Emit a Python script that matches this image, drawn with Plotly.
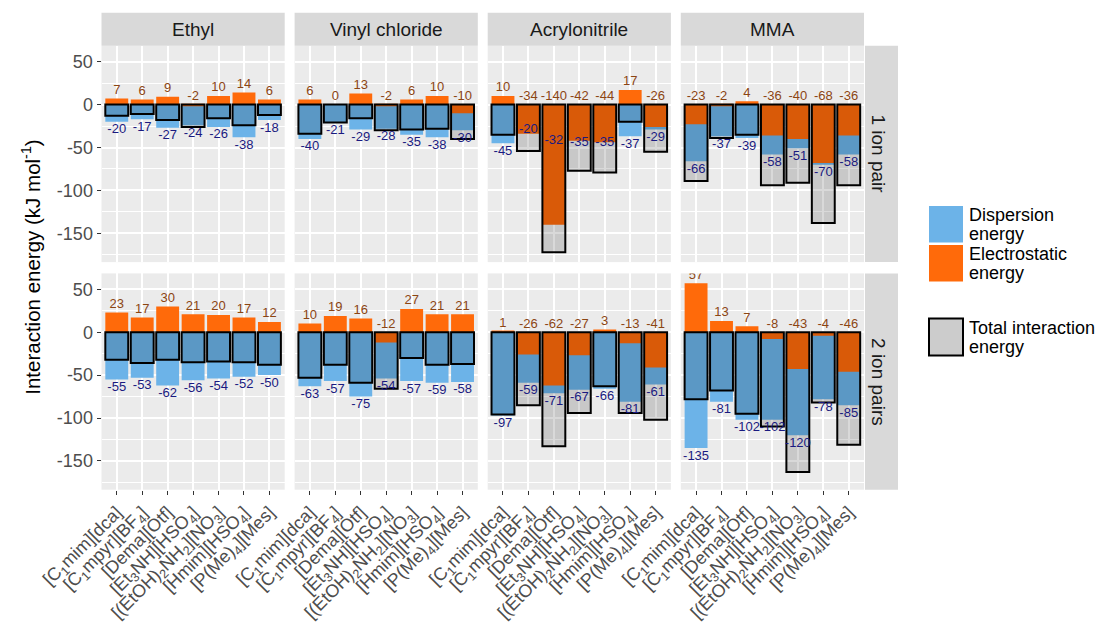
import plotly.graph_objects as go

W, H = 1102, 628

categories = ["[C<sub>1</sub>mim][dca]", "[C<sub>1</sub>mpyr][BF<sub>4</sub>]", "[Dema][Otf]",
              "[Et<sub>3</sub>NH][HSO<sub>4</sub>]", "[(EtOH)<sub>2</sub>NH<sub>2</sub>][NO<sub>3</sub>]",
              "[Hmim][HSO<sub>4</sub>]", "[P(Me)<sub>4</sub>][Mes]"]
monomers = ["Ethyl", "Vinyl chloride", "Acrylonitrile", "MMA"]
pair_labels = ["1 ion pair", "2 ion pairs"]

# ---- 1 ion pair ----
elec_ethyl_1 = [7, 6, 9, -2, 10, 14, 6]
disp_ethyl_1 = [-20, -17, -27, -24, -26, -38, -18]
total_ethyl_1 = [-13, -11, -18, -26, -16, -24, -12]

elec_vinyl_1 = [6, 0, 13, -2, 6, 10, -10]
disp_vinyl_1 = [-40, -21, -29, -28, -35, -38, -30]
total_vinyl_1 = [-34, -21, -16, -30, -29, -28, -40]

elec_acryl_1 = [10, -34, -140, -42, -44, 17, -26]
disp_acryl_1 = [-45, -20, -32, -35, -35, -37, -29]
total_acryl_1 = [-35, -54, -172, -77, -79, -20, -55]

elec_mma_1 = [-23, -2, 4, -36, -40, -68, -36]
disp_mma_1 = [-66, -37, -39, -58, -51, -70, -58]
total_mma_1 = [-89, -39, -35, -94, -91, -138, -94]

# ---- 2 ion pairs ----
elec_ethyl_2 = [23, 17, 30, 21, 20, 17, 12]
disp_ethyl_2 = [-55, -53, -62, -56, -54, -52, -50]
total_ethyl_2 = [-32, -36, -32, -35, -34, -35, -38]

elec_vinyl_2 = [10, 19, 16, -12, 27, 21, 21]
disp_vinyl_2 = [-63, -57, -75, -54, -57, -59, -58]
total_vinyl_2 = [-53, -38, -59, -66, -30, -38, -37]

elec_acryl_2 = [1, -26, -62, -27, 3, -13, -41]
disp_acryl_2 = [-97, -59, -71, -67, -66, -81, -61]
total_acryl_2 = [-96, -85, -133, -94, -63, -94, -102]

elec_mma_2 = [57, 13, 7, -8, -43, -4, -46]
disp_mma_2 = [-135, -81, -102, -102, -120, -78, -85]
total_mma_2 = [-78, -68, -95, -110, -163, -82, -131]

y_ticks = [50, 0, -50, -100, -150]
y_tick_text = ["50", "0", "-50", "-100", "-150"]

panels = [
    [(elec_ethyl_1, disp_ethyl_1, total_ethyl_1), (elec_vinyl_1, disp_vinyl_1, total_vinyl_1),
     (elec_acryl_1, disp_acryl_1, total_acryl_1), (elec_mma_1, disp_mma_1, total_mma_1)],
    [(elec_ethyl_2, disp_ethyl_2, total_ethyl_2), (elec_vinyl_2, disp_vinyl_2, total_vinyl_2),
     (elec_acryl_2, disp_acryl_2, total_acryl_2), (elec_mma_2, disp_mma_2, total_mma_2)],
]

# layout geometry (pixels)
col_x0 = [101.5, 294.6, 487.7, 680.8]
panel_w = 183.2
row_y0 = [45.8, 273.4]
panel_h = 216.3
strip = 33.0

FONT = "Liberation Sans, Arial, Helvetica, sans-serif"
C_DISP = "#6cb3e8"
C_ELEC = "#ff6a0a"
C_TOTAL = "rgba(0,0,0,0.15)"
C_ELEC_LAB = "#8b4513"
C_DISP_LAB = "#1a1a80"

def px(x):
    return x / W

def py(y):
    return 1 - y / H

fig = go.Figure()
layout = dict(
    width=W, height=H, margin=dict(l=0, r=0, t=0, b=0, pad=0, autoexpand=False),
    paper_bgcolor="white", plot_bgcolor="#ebebeb",
    barmode="overlay", bargap=0.1, showlegend=False,
    font=dict(family=FONT, color="#4d4d4d"),
)
shapes = []
annotations = []

for r in range(2):
    for c in range(4):
        idx = r * 4 + c + 1
        xa = "x" if idx == 1 else f"x{idx}"
        ya = "y" if idx == 1 else f"y{idx}"
        elec, disp, total = panels[r][c]
        fig.add_trace(go.Bar(x=categories, y=disp, marker=dict(color=C_DISP, line=dict(width=0)),
                             xaxis=xa, yaxis=ya, hoverinfo="skip", name="Dispersion energy"))
        fig.add_trace(go.Bar(x=categories, y=elec, marker=dict(color=C_ELEC, line=dict(width=0)),
                             xaxis=xa, yaxis=ya, hoverinfo="skip", name="Electrostatic energy"))
        fig.add_trace(go.Bar(x=categories, y=total,
                             marker=dict(color=C_TOTAL, line=dict(color="black", width=2)),
                             xaxis=xa, yaxis=ya, hoverinfo="skip", name="Total interaction energy"))
        fig.add_trace(go.Scatter(x=categories, y=[max(v, 0) + 1.5 for v in elec], mode="text",
                                 text=[str(v) for v in elec], textposition="top center",
                                 textfont=dict(size=13, color=C_ELEC_LAB, family=FONT),
                                 cliponaxis=True, xaxis=xa, yaxis=ya, hoverinfo="skip"))
        fig.add_trace(go.Scatter(x=categories, y=[v - 2 for v in disp], mode="text",
                                 text=[str(v) for v in disp], textposition="bottom center",
                                 textfont=dict(size=13, color=C_DISP_LAB, family=FONT),
                                 cliponaxis=True, xaxis=xa, yaxis=ya, hoverinfo="skip"))

        x0 = col_x0[c]
        x1 = x0 + panel_w
        y0 = row_y0[r]
        y1 = y0 + panel_h
        xkey = "xaxis" if idx == 1 else f"xaxis{idx}"
        ykey = "yaxis" if idx == 1 else f"yaxis{idx}"
        layout[xkey] = dict(
            domain=[px(x0), px(x1)], anchor=ya, type="category",
            categoryorder="array", categoryarray=categories,
            range=[-0.6, 6.6], showgrid=True, gridcolor="white", gridwidth=2,
            zeroline=False, showline=False, automargin=False,
            showticklabels=(r == 1), ticks="outside" if r == 1 else "",
            ticklen=4, tickwidth=1.2, tickcolor="#333333", tickangle=-45,
            tickfont=dict(size=18, color="#4d4d4d", family=FONT),
            fixedrange=True,
        )
        layout[ykey] = dict(
            domain=[py(y1), py(y0)], anchor=xa, range=[-183.5, 68.5],
            tickvals=y_ticks, ticktext=y_tick_text, automargin=False,
            showgrid=True, gridcolor="white", gridwidth=2, zeroline=False, showline=False,
            minor=dict(tick0=25, dtick=50, showgrid=True, gridcolor="white", gridwidth=1, ticks=""),
            showticklabels=(c == 0), ticks="outside" if c == 0 else "",
            ticklen=4, tickwidth=1.2, tickcolor="#333333",
            tickfont=dict(size=18, color="#4d4d4d", family=FONT),
            fixedrange=True,
        )

# top strips
for c in range(4):
    x0 = col_x0[c]
    x1 = x0 + panel_w
    shapes.append(dict(type="rect", xref="paper", yref="paper", x0=px(x0), x1=px(x1),
                       y0=py(row_y0[0]), y1=py(row_y0[0] - strip), fillcolor="#d9d9d9",
                       line=dict(width=0), layer="below"))
    annotations.append(dict(xref="paper", yref="paper", x=px((x0 + x1) / 2),
                            y=py(row_y0[0] - strip / 2), text=monomers[c], showarrow=False,
                            font=dict(size=19, color="#1a1a1a", family=FONT),
                            xanchor="center", yanchor="middle"))

# right strips
sx0 = col_x0[3] + panel_w + 1
for r in range(2):
    y0 = row_y0[r]
    y1 = y0 + panel_h
    shapes.append(dict(type="rect", xref="paper", yref="paper", x0=px(sx0), x1=px(sx0 + strip),
                       y0=py(y1), y1=py(y0), fillcolor="#d9d9d9", line=dict(width=0), layer="below"))
    annotations.append(dict(xref="paper", yref="paper", x=px(sx0 + strip / 2 - 3),
                            y=py((y0 + y1) / 2), text=pair_labels[r], showarrow=False, textangle=90,
                            font=dict(size=19, color="#1a1a1a", family=FONT),
                            xanchor="center", yanchor="middle"))

# y-axis title
annotations.append(dict(xref="paper", yref="paper", x=px(31), y=py((row_y0[0] + row_y0[1] + panel_h) / 2),
                        text="Interaction energy (kJ mol<sup>-1</sup>)", showarrow=False, textangle=-90,
                        font=dict(size=20.5, color="black", family=FONT),
                        xanchor="center", yanchor="middle"))

# legend (drawn manually to mimic ggplot keys)
legend_items = [
    (206, 242.5, C_DISP, None, ["Dispersion", "energy"]),
    (245, 281.5, C_ELEC, None, ["Electrostatic", "energy"]),
    (318.5, 355.5, "#cccccc", "black", ["Total interaction", "energy"]),
]
for (ly0, ly1, col, lcol, lines) in legend_items:
    shapes.append(dict(type="rect", xref="paper", yref="paper", x0=px(929), x1=px(963),
                       y0=py(ly1), y1=py(ly0), fillcolor=col,
                       line=dict(width=2 if lcol else 0, color=lcol if lcol else col)))
    mid = (ly0 + ly1) / 2
    for k, line_text in enumerate(lines):
        annotations.append(dict(xref="paper", yref="paper", x=px(967), y=py(mid - 9.5 + 19 * k),
                                text=line_text, showarrow=False, align="left",
                                font=dict(size=18, color="black", family=FONT),
                                xanchor="left", yanchor="middle"))

layout["shapes"] = shapes
layout["annotations"] = annotations
fig.update_layout(**layout)
fig.write_html("out.html")
